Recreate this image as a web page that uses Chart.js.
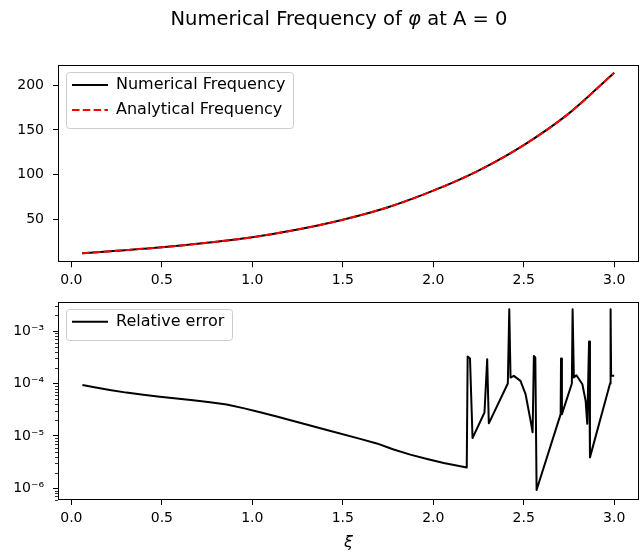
<!DOCTYPE html>
<html>
<head>
<meta charset="utf-8">
<script src="https://cdn.jsdelivr.net/npm/chart.js@4.4.0/dist/chart.umd.min.js"></script>
<style>
    html, body { margin: 0; padding: 0; background: #fff; }
    #page { position: relative; width: 640px; height: 552px; overflow: hidden; font-family: "DejaVu Sans", sans-serif; }
    #freqChart { position: absolute; left: 0; top: 0; }
    #errChart { position: absolute; left: 0; top: 280px; }
    #title { position: absolute; left: 0; top: 9px; width: 678px; text-align: center; font-size: 19.5px; line-height: 19px; color: #000; white-space: nowrap; }
</style>
</head>
<body>
<div id="page">
    <canvas id="freqChart" width="640" height="290"></canvas>
    <canvas id="errChart" width="640" height="272"></canvas>
    <div id="title">Numerical Frequency of <i>φ</i> at A = 0</div>
</div>
<script>
// axis ticks
const xiTicks = [0.0, 0.5, 1.0, 1.5, 2.0, 2.5, 3.0];
const freqTicks = [50, 100, 150, 200];
const errDecades = [1e-6, 1e-5, 1e-4, 1e-3];
const minorSteps = [2, 3, 4, 5, 6, 7, 8, 9];

// top panel: frequency vs xi
const freqXi = [0.06, 0.25, 0.5, 0.75, 1.0, 1.25, 1.5, 1.75, 2.0, 2.25, 2.5, 2.75, 3.0];
const numericalFreq = [12.0, 14.8, 18.7, 23.8, 29.9, 38.5, 49.5, 63.5, 82.0, 104.5, 133.0, 168.5, 214.0];
const analyticalFreq = [12.0, 14.8, 18.7, 23.8, 29.9, 38.5, 49.5, 63.5, 82.0, 104.5, 133.0, 168.5, 214.0];

// bottom panel: relative error vs xi
const errXi = [
    0.061, 0.120, 0.212, 0.304, 0.397, 0.489, 0.581, 0.673, 0.766, 0.858, 0.950,
    1.043, 1.135, 1.227, 1.412, 1.596, 1.688, 1.781, 1.873, 1.966, 2.058, 2.185,
    2.190, 2.203, 2.217, 2.283, 2.298, 2.307, 2.412, 2.420, 2.427, 2.445, 2.482, 2.510, 2.538, 2.549,
    2.556, 2.564, 2.571, 2.704, 2.706, 2.711, 2.766, 2.770, 2.777, 2.791, 2.824, 2.842, 2.851, 2.861,
    2.866, 2.977, 2.980, 2.983, 3.000,
];
const relError = [
    9.4e-5, 8.6e-5, 7.55e-5, 6.7e-5, 6.07e-5, 5.56e-5, 5.17e-5, 4.8e-5, 4.4e-5, 3.98e-5, 3.39e-5,
    2.83e-5, 2.34e-5, 1.93e-5, 1.3e-5, 8.8e-6, 7.2e-6, 5.5e-6, 4.4e-6, 3.63e-6, 3.05e-6, 2.5e-6,
    3.27e-4, 3.0e-4, 9.1e-6, 2.8e-5, 2.9e-4, 1.74e-5, 1.0e-4, 2.6e-3, 1.3e-4, 1.4e-4, 1.12e-4, 6.3e-5, 1.94e-5, 1.17e-5,
    3.36e-4, 3.1e-4, 9.3e-7, 2.6e-5, 3.0e-4, 2.6e-5, 1.0e-4, 2.6e-3, 1.3e-4, 1.44e-4, 9.7e-5, 4.7e-5, 1.7e-5, 6.3e-4,
    3.9e-6, 1.0e-4, 2.6e-3, 1.4e-4, 1.4e-4,
];

const XI_MIN = -0.074;
const XI_MAX = 3.137;

Chart.defaults.font.family = "'DejaVu Sans', sans-serif";
Chart.defaults.font.size = 14;
Chart.defaults.color = "#000";

const SUPERS = { "-": "\u207B", "0": "\u2070", "1": "\u00B9", "2": "\u00B2", "3": "\u00B3", "4": "\u2074", "5": "\u2075", "6": "\u2076", "7": "\u2077", "8": "\u2078", "9": "\u2079" };

function pairs(xs, ys) {
    return xs.map((x, i) => ({ x, y: ys[i] }));
}

function powLabel(v) {
    const e = Math.round(Math.log10(v));
    return "10" + String(e).split("").map((c) => SUPERS[c]).join("");
}

// matplotlib-ish frame, legend box and minor log ticks
const mplLook = {
    id: "mplLook",
    beforeDraw(chart) {
        const lg = chart.legend;
        const boxes = lg && lg.legendHitBoxes;
        if (!boxes || !boxes.length) return;
        // legend in "chartArea" mode ends up at the canvas top: put it inside the axes, upper left
        const dy = chart.chartArea.top + 3 - lg.top;
        const dx = chart.chartArea.left + 14 - boxes[0].left;
        if (dx || dy) {
            lg.left += dx; lg.right += dx; lg.top += dy; lg.bottom += dy;
            boxes.forEach((b) => { b.left += dx; b.top += dy; });
        }
        const l = Math.min(...boxes.map((b) => b.left)) - 6;
        const t = Math.min(...boxes.map((b) => b.top)) - 5;
        const r = Math.max(...boxes.map((b) => b.left + b.width)) + 8;
        const btm = Math.max(...boxes.map((b) => b.top + b.height)) + 10;
        const ctx = chart.ctx;
        ctx.save();
        ctx.beginPath();
        ctx.roundRect(Math.round(l) + 0.5, Math.round(t) + 0.5, Math.round(r - l), Math.round(btm - t), 3);
        ctx.fillStyle = "rgba(255,255,255,0.8)";
        ctx.fill();
        ctx.strokeStyle = "#cccccc";
        ctx.lineWidth = 1;
        ctx.stroke();
        ctx.restore();
    },
    afterDraw(chart) {
        const { left, top, right, bottom } = chart.chartArea;
        const ctx = chart.ctx;
        ctx.save();
        ctx.strokeStyle = "#000";
        const y = chart.scales.y;
        if (y.type === "logarithmic") {
            ctx.beginPath();
            errDecades.concat([1e-7]).forEach((d) => {
                minorSteps.forEach((k) => {
                    const v = k * d;
                    if (v < y.min || v > y.max) return;
                    const py = Math.round(y.getPixelForValue(v)) + 0.5;
                    ctx.moveTo(left - 3, py);
                    ctx.lineTo(left, py);
                });
            });
            ctx.lineWidth = 0.8;
            ctx.stroke();
        }
        ctx.lineWidth = 1;
        ctx.strokeRect(Math.round(left) + 0.5, Math.round(top) + 0.5, Math.round(right - left) - 1, Math.round(bottom - top) - 1);
        ctx.restore();
    },
};

const tickGrid = { drawOnChartArea: false, drawTicks: true, tickLength: 5, tickColor: "#000", tickWidth: 1 };

function xiAxis(height, withTitle) {
    return {
        type: "linear",
        min: XI_MIN,
        max: XI_MAX,
        afterBuildTicks: (s) => { s.ticks = xiTicks.map((v) => ({ value: v })); },
        afterFit: (s) => { s.height = height; },
        ticks: { callback: (v) => Number(v).toFixed(1), padding: 5, maxRotation: 0, autoSkip: false },
        grid: tickGrid,
        border: { display: false },
        title: withTitle
            ? { display: true, text: "\u03BE", font: { size: 16, style: "italic" }, padding: 0 }
            : { display: false },
    };
}

// legend samples drawn as short lines, keeping each dataset's dash pattern
function lineLegendLabels(chart) {
    const items = Chart.defaults.plugins.legend.labels.generateLabels(chart);
    return items.map((item) => {
        const ds = chart.data.datasets[item.datasetIndex];
        item.lineDash = ds.borderDash || [];
        item.lineWidth = ds.borderWidth;
        item.strokeStyle = ds.borderColor;
        item.fontColor = "#000";
        return item;
    });
}

const legendOpts = {
    position: "chartArea",
    align: "start",
    labels: {
        usePointStyle: true,
        pointStyle: "line",
        pointStyleWidth: 36,
        padding: 9,
        font: { size: 16 },
        color: "#000",
        generateLabels: lineLegendLabels,
        sort: (a, b) => a.datasetIndex - b.datasetIndex,
    },
};

new Chart(document.getElementById("freqChart"), {
    type: "line",
    data: {
        datasets: [
            {
                label: "Numerical Frequency",
                data: pairs(freqXi, numericalFreq),
                borderColor: "#000000",
                borderWidth: 2,
                pointRadius: 0,
                cubicInterpolationMode: "monotone",
                order: 1,
            },
            {
                label: "Analytical Frequency",
                data: pairs(freqXi, analyticalFreq),
                borderColor: "#ff0000",
                borderWidth: 2,
                borderDash: [7.5, 3.3],
                pointRadius: 0,
                cubicInterpolationMode: "monotone",
                order: 0,
            },
        ],
    },
    options: {
        responsive: false,
        animation: false,
        events: [],
        layout: { padding: { top: 65, right: 1, left: 0, bottom: 0 } },
        plugins: { legend: legendOpts, tooltip: { enabled: false } },
        scales: {
            x: xiAxis(27.7, false),
            y: {
                type: "linear",
                min: 1.9,
                max: 222.6,
                afterBuildTicks: (s) => { s.ticks = freqTicks.map((v) => ({ value: v })); },
                afterFit: (s) => { s.width = 58; },
                ticks: { padding: 9 },
                grid: tickGrid,
                border: { display: false },
            },
        },
    },
    plugins: [mplLook],
});

new Chart(document.getElementById("errChart"), {
    type: "line",
    data: {
        datasets: [
            {
                label: "Relative error",
                data: pairs(errXi, relError),
                borderColor: "#000000",
                borderWidth: 2,
                borderJoinStyle: "round",
                pointRadius: 0,
                tension: 0,
            },
        ],
    },
    options: {
        responsive: false,
        animation: false,
        events: [],
        layout: { padding: { top: 21.7, right: 1, left: 0, bottom: 0 } },
        plugins: { legend: legendOpts, tooltip: { enabled: false } },
        scales: {
            x: xiAxis(52, true),
            y: {
                type: "logarithmic",
                min: 6.0e-7,
                max: 3.63e-3,
                afterBuildTicks: (s) => { s.ticks = errDecades.map((v) => ({ value: v })); },
                afterFit: (s) => { s.width = 58; },
                ticks: { padding: 9, callback: (v) => powLabel(v) },
                grid: tickGrid,
                border: { display: false },
            },
        },
    },
    plugins: [mplLook],
});
</script>
</body>
</html>
